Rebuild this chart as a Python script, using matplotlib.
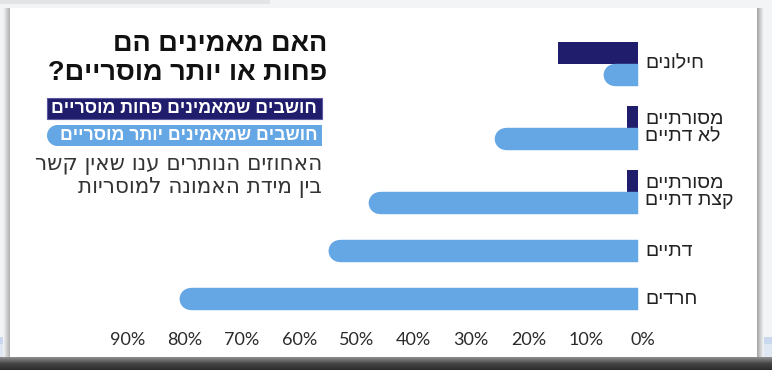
import numpy as np
import matplotlib
matplotlib.use("Agg")
import matplotlib.pyplot as plt
from matplotlib.colors import LinearSegmentedColormap
from matplotlib.patches import Rectangle, Ellipse, Circle
from matplotlib.transforms import ScaledTranslation

# נתונים
categories = ["חילונים", "מסורתיים\nלא דתיים", "מסורתיים\nקצת דתיים", "דתיים", "חרדים"]
less_moral = [14, 2, 2, 0, 0]      # חושבים שמאמינים פחות מוסריים
more_moral = [6, 25, 47, 54, 80]   # חושבים שמאמינים יותר מוסריים
tick_values = [0, 10, 20, 30, 40, 50, 60, 70, 80, 90]

title_lines = ["האם מאמינים הם", "פחות או יותר מוסריים?"]
legend_less = "חושבים שמאמינים פחות מוסריים"
legend_more = "חושבים שמאמינים יותר מוסריים"
note_lines = ["האחוזים הנותרים ענו שאין קשר", "בין מידת האמונה למוסריות"]

NAVY = "#201d6c"
LIGHT = "#65a6e4"
HEB = "Liberation Sans"


def rtl(s):
    # matplotlib לא הופך טקסט עברי, אז הופכים כל שורה ידנית
    return "\n".join(line[::-1] for line in s.split("\n"))


W, H = 772, 370
fig = plt.figure(figsize=(W / 100, H / 100), dpi=100, facecolor="#f3f4f6")

# רקע: כרטיס לבן עם צל (קואורדינטות בפיקסלים)
bg = fig.add_axes([0, 0, 1, 1], zorder=0)
bg.set_xlim(0, W)
bg.set_ylim(H, 0)
bg.axis("off")

bg.add_patch(Rectangle((0, 0), 270, 4, color="#e4e4e4", lw=0))
bg.add_patch(Rectangle((0, 337), W, 7, color="#c9d8ec", lw=0))
bg.add_patch(Rectangle((0, 344), W, 14, color="#dfe7f2", lw=0))
grad = np.linspace(0, 1, 30).reshape(-1, 1)
bg.imshow(grad, extent=(0, W, H, 357),
          cmap=LinearSegmentedColormap.from_list("sh", ["#8e8e8e", "#454545", "#2c2c2c"]),
          aspect="auto", zorder=1)
side = np.linspace(0, 1, 10).reshape(1, -1)
bg.imshow(side, extent=(3, 11, 357, 8),
          cmap=LinearSegmentedColormap.from_list("ls", ["#f3f4f6", "#a9a9a9"]),
          aspect="auto", zorder=1)
bg.imshow(side, extent=(756, 764, 357, 8),
          cmap=LinearSegmentedColormap.from_list("rs", ["#9c9c9c", "#f3f4f6"]),
          aspect="auto", zorder=1)
bg.add_patch(Rectangle((10, 8), 747, 349, color="white", lw=0, zorder=2))

# כותרת
for i, line in enumerate(title_lines):
    bg.text(327, 44 + i * 29, rtl(line), ha="right", va="center", fontsize=19.5,
            fontweight="bold", family=HEB, color="#111111", zorder=3)

# מקרא
bg.add_patch(Rectangle((47, 98), 275, 21, facecolor=NAVY, edgecolor="#5b58a0",
                       lw=0.8, zorder=3))
bg.text(317, 108.5, rtl(legend_less), ha="right", va="center", fontsize=12.8,
        fontweight="bold", family=HEB, color="white", zorder=4)
bg.add_patch(Rectangle((57.5, 125), 264.5, 21, color=LIGHT, lw=0, zorder=3))
bg.add_patch(Circle((57.5, 135.5), 10.5, color=LIGHT, lw=0, zorder=3))
bg.text(317, 135.5, rtl(legend_more), ha="right", va="center", fontsize=12.8,
        fontweight="bold", family=HEB, color="white", zorder=4)

for i, line in enumerate(note_lines):
    bg.text(322, 165 + i * 22, rtl(line), ha="right", va="center", fontsize=15.5,
            family="DejaVu Sans", color="#333333", zorder=3)

# הגרף עצמו: ציר x הפוך, 0% מימין
zero_px = 638
px_per_pct = 5.73
ax_left, ax_right, ax_top, ax_bottom = 100, 660, 30, 322
ax = fig.add_axes([ax_left / W, (H - ax_bottom) / H, (ax_right - ax_left) / W,
                   (ax_bottom - ax_top) / H], zorder=5)
ax.patch.set_alpha(0)
ax.set_xlim((zero_px - ax_left) / px_per_pct, (zero_px - ax_right) / px_per_pct)
ax.set_ylim(ax_bottom, ax_top)

bar_h = 22
# מיקום השורות: שורה עם שני עמודים תופסת יותר מקום
rows_y = []
y = 75
for i in range(len(categories)):
    rows_y.append(y)
    if i + 1 < len(categories):
        y += 48 + (16 if less_moral[i + 1] > 0 else 0)

rx = (bar_h / 2) / px_per_pct
for yc, lv, mv, cat in zip(rows_y, less_moral, more_moral, categories):
    if lv > 0:
        ax.barh(yc - bar_h, lv, height=bar_h, color=NAVY, lw=0)
    ax.barh(yc, mv - rx, height=bar_h, color=LIGHT, lw=0.3, edgecolor=LIGHT)
    ax.add_patch(Ellipse((mv - rx, yc), 2 * rx, bar_h, color=LIGHT, lw=0))
    label_y = yc - bar_h / 2 if lv > 0 else yc
    ax.annotate(rtl(cat), (0, label_y), xytext=(7, 0), textcoords="offset pixels",
                ha="left", va="center", fontsize=14, family=HEB, color="#222222",
                linespacing=1.05, annotation_clip=False)

ax.set_xticks(tick_values)
ax.set_xticklabels([f"{v}%" for v in tick_values], fontsize=13, family="Lato",
                   color="#2a2a2a")
ax.tick_params(axis="x", length=0, pad=7.5)
ax.set_yticks([])
for lbl in ax.get_xticklabels():
    lbl.set_transform(lbl.get_transform() + ScaledTranslation(0.05, 0, fig.dpi_scale_trans))
for s in ax.spines.values():
    s.set_visible(False)

fig.savefig("out.png", dpi=100, facecolor=fig.get_facecolor())
